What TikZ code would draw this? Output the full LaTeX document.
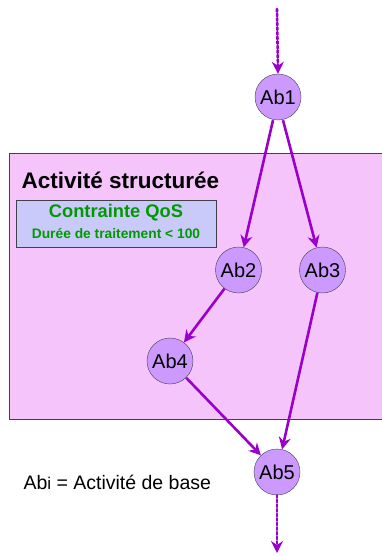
\documentclass[tikz,border=0pt]{standalone}
\usepackage{fontspec}
\setmainfont{Liberation Sans}
\usepackage{tikz}
\usetikzlibrary{positioning}
\usetikzlibrary{arrows.meta}
\definecolor{arrowpurple}{HTML}{9900CC}
\definecolor{abfill}{HTML}{CC99FF}
\definecolor{structfill}{HTML}{F4C4FA}
\definecolor{qosfill}{HTML}{CACAFA}
\definecolor{qosgreen}{HTML}{009A00}
\definecolor{bordergray}{HTML}{404048}

\begin{document}
\begin{tikzpicture}[x=1pt, y=-1pt,
activitynode/.style={circle, draw=bordergray, fill=abfill, thin, minimum size=46pt, inner sep=0pt, font=\fontsize{20}{20}\selectfont},
structnode/.style={rectangle, draw=bordergray, fill=structfill, line width=1.2pt, anchor=north west, inner sep=0pt},
qosnode/.style={rectangle, draw=bordergray, fill=qosfill, thin, anchor=north west, inner sep=0pt, minimum width=200pt, minimum height=47pt},
flow/.style={arrowpurple, line width=2.6pt, -{Stealth[length=12pt, width=12pt, inset=4pt]}},
dottedflow/.style={flow, dotted, line cap=round},
]
\useasboundingbox (0,0) rectangle (381,556);
%Box
\node[structnode, minimum width=376pt, minimum height=266pt] (struct) at (9,153) {};
\node[anchor=west, font=\fontsize{22.5}{22.5}\selectfont\bfseries] (title) at (18,180) {Activité structurée};
\node[qosnode] (qos) at (16,200) {};
\node[text=qosgreen, font=\fontsize{18.3}{18.3}\selectfont\bfseries] (qostitle) at (116,213) {Contrainte QoS};
\node[text=qosgreen, font=\fontsize{13.8}{13.8}\selectfont\bfseries] (qostext) at (116,234) {Durée de traitement < 100};

%Nodes
\node[activitynode] (ab1) at (278,97) {Ab1};
\node[activitynode] (ab2) at (238.5,270) {Ab2};
\node[activitynode] (ab3) at (322.5,270) {Ab3};
\node[activitynode] (ab4) at (170,361) {Ab4};
\node[activitynode] (ab5) at (277,472) {Ab5};
\coordinate (in) at (277,9);
\coordinate (out) at (277,553);
\node[anchor=west, font=\fontsize{19.5}{19.5}\selectfont] (legend) at (20,482) {Ab{\fontsize{17}{17}\selectfont i} = Activité de base};

%Lines
\draw[dottedflow] (in) -- (ab1.north);
\draw[flow] (ab1.south) ++(-5pt,0) -- (ab2);
\draw[flow] (ab1.south) ++(5pt,0) -- (ab3);
\draw[flow] (ab2) -- (ab4);
\draw[flow] (ab4) -- (ab5);
\draw[flow] (ab3) -- (ab5);
\draw[dottedflow] (ab5.south) -- (out);
\end{tikzpicture}
\end{document}
